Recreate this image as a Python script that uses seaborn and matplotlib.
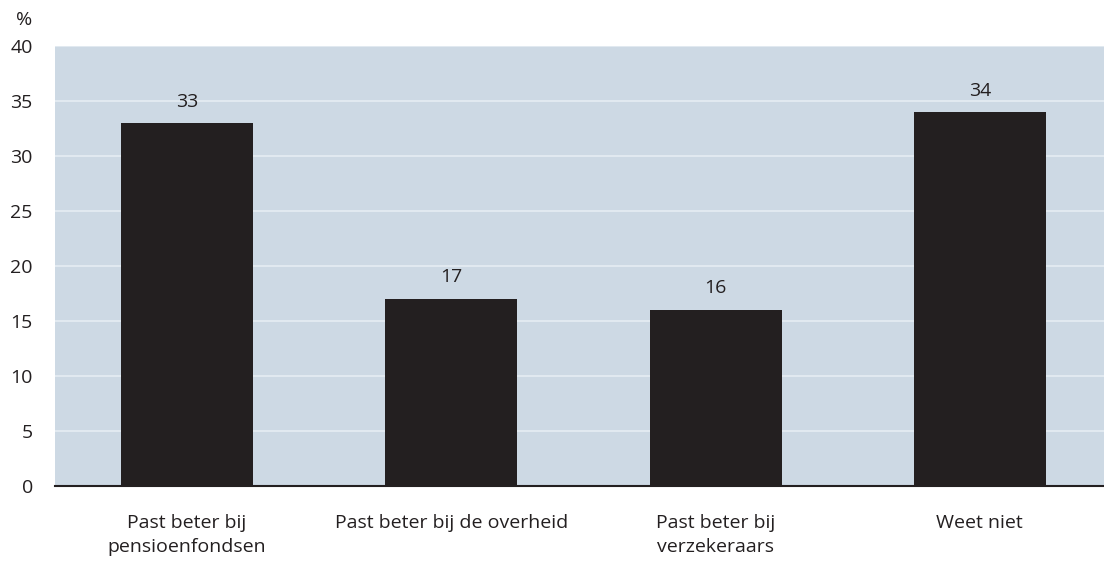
import matplotlib
matplotlib.use("Agg")
import matplotlib.pyplot as plt
import seaborn as sns
import pandas as pd

categories = ["Past beter bij\npensioenfondsen", "Past beter bij de overheid",
              "Past beter bij\nverzekeraars", "Weet niet"]
values = [33, 17, 16, 34]
yticks = [0, 5, 10, 15, 20, 25, 30, 35, 40]

df = pd.DataFrame({"cat": categories, "val": values})

sns.set_theme(style="white")
plt.rcParams["font.family"] = ["Open Sans", "DejaVu Sans"]

fig = plt.figure(figsize=(11.04, 5.61), dpi=100)
ax = fig.add_axes([0.0498, 0.1337, 0.9502, 0.7843])
ax.set_facecolor("#cdd9e4")

sns.barplot(data=df, x="cat", y="val", color="#231f20", width=0.5,
            saturation=1, edgecolor="none", linewidth=0, ax=ax, zorder=3)

for i, v in enumerate(values):
    ax.annotate(f"{v}", (i, v), xytext=(0, 9), textcoords="offset points",
                ha="center", va="bottom", fontsize=14, color="#231f20")

ax.set_ylim(0, 40)
ax.set_xlim(-0.5, 3.47)
ax.set_yticks(yticks)
ax.yaxis.grid(True, color="#e6edf3", linewidth=1.2, zorder=1)
ax.set_axisbelow(True)
for s in ["top", "right", "left"]:
    ax.spines[s].set_visible(False)
ax.spines["bottom"].set_color("#231f20")
ax.spines["bottom"].set_linewidth(1.5)
ax.tick_params(axis="y", length=0, labelsize=14, labelcolor="#231f20", pad=16)
ax.tick_params(axis="x", length=0, labelsize=14, labelcolor="#231f20", pad=20)
for lab in ax.get_xticklabels():
    lab.set_linespacing(1.45)
ax.set_xlabel("")
ax.set_ylabel("")
fig.text(0.022, 0.965, "%", fontsize=14, color="#231f20", ha="center", va="center")

fig.savefig("out.png", dpi=100)
